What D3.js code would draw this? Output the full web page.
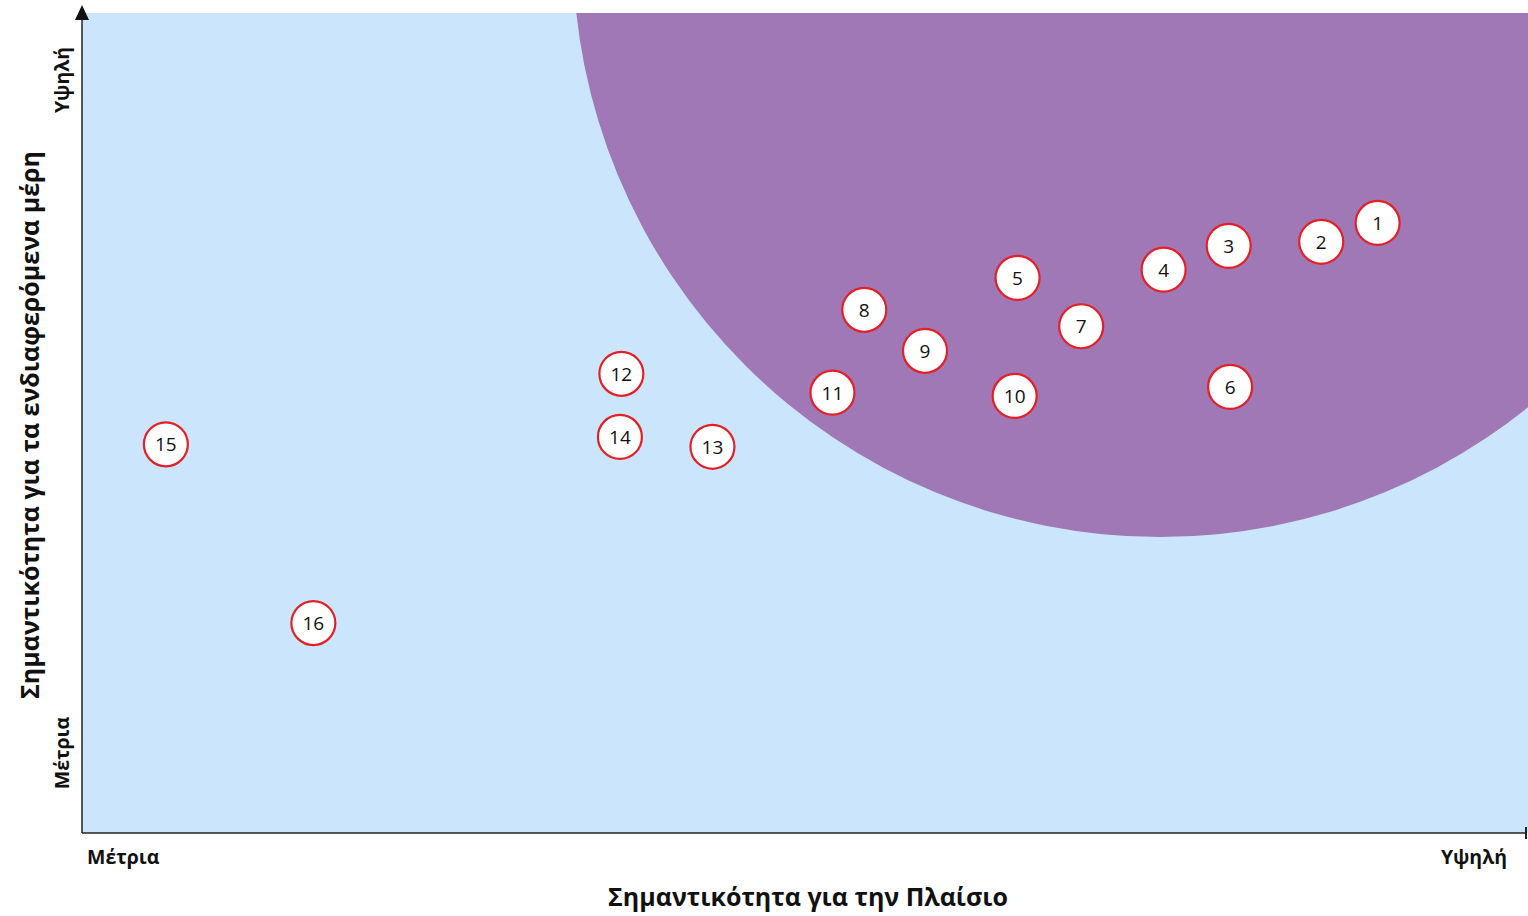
<!DOCTYPE html>
<html>
<head>
<meta charset="utf-8">
<script src="https://cdn.jsdelivr.net/npm/d3@7"></script>
<style>
  body { margin: 0; background: #fff; }
  .lbl { font-family: "Open Sans", sans-serif; font-weight: 700; fill: #111; }
  .num { font-family: "Open Sans", sans-serif; font-size: 19px; fill: #111; }
</style>
</head>
<body>
<div class="chart"></div>
<script>
// topic ids and positions (0-100 on both axes)
var ids = ["1","2","3","4","5","6","7","8","9","10","11","12","13","14","15","16"];
var xVals = [89.6, 85.7, 79.3, 74.8, 64.7, 79.4, 69.1, 54.1, 58.3, 64.5, 51.9, 37.3, 43.6, 37.2, 5.8, 16.0];
var yVals = [74.4, 72.1, 71.6, 68.7, 67.7, 54.4, 61.8, 63.8, 58.8, 53.3, 53.7, 56.0, 47.1, 48.3, 47.4, 25.6];

// highlighted zone (ellipse in data units)
var zoneCenter = [74.55, 107.7];
var zoneRadii = [40.6, 71.6];

var xTickLabels = ["Μέτρια", "Υψηλή"];
var yTickLabels = ["Μέτρια", "Υψηλή"];

var svgWidth = 1528;
var svgHeight = 916;
var margin = { top: 13, right: 0, bottom: 83, left: 82 };
var width = svgWidth - margin.left - margin.right;
var height = svgHeight - margin.top - margin.bottom;

var svg = d3.select(".chart")
  .append("svg")
  .attr("width", svgWidth)
  .attr("height", svgHeight);

var chartGroup = svg.append("g")
  .attr("transform", `translate(${margin.left}, ${margin.top})`);

var xScale = d3.scaleLinear().domain([0, 100]).range([0, width]);
var yScale = d3.scaleLinear().domain([0, 100]).range([height, 0]);

svg.append("defs").append("clipPath")
  .attr("id", "plotClip")
  .append("rect")
  .attr("width", width)
  .attr("height", height);

// background
chartGroup.append("rect")
  .attr("width", width)
  .attr("height", height)
  .attr("fill", "#cbe6fc");

// zone
chartGroup.append("g")
  .attr("clip-path", "url(#plotClip)")
  .append("ellipse")
  .attr("cx", xScale(zoneCenter[0]))
  .attr("cy", yScale(zoneCenter[1]))
  .attr("rx", xScale(zoneRadii[0]) - xScale(0))
  .attr("ry", yScale(0) - yScale(zoneRadii[1]))
  .attr("fill", "#9f78b5");

// axes
chartGroup.append("line")
  .attr("x1", 0).attr("x2", 0)
  .attr("y1", height).attr("y2", 2)
  .attr("stroke", "#222").attr("stroke-width", 1.5);
chartGroup.append("path")
  .attr("d", "M-7,7 L7,7 L0,-8 Z")
  .attr("fill", "#111");

chartGroup.append("line")
  .attr("x1", 0).attr("x2", width - 2)
  .attr("y1", height).attr("y2", height)
  .attr("stroke", "#222").attr("stroke-width", 1.5);
chartGroup.append("line")
  .attr("x1", width - 2).attr("x2", width - 2)
  .attr("y1", height - 6).attr("y2", height + 6)
  .attr("stroke", "#222").attr("stroke-width", 2);

// tick labels
chartGroup.append("text")
  .attr("class", "lbl")
  .attr("x", 5).attr("y", height + 31)
  .style("font-size", "19.5px")
  .text(xTickLabels[0]);
chartGroup.append("text")
  .attr("class", "lbl")
  .attr("x", width - 21).attr("y", height + 31)
  .attr("text-anchor", "end")
  .style("font-size", "19.5px")
  .text(xTickLabels[1]);

chartGroup.append("text")
  .attr("class", "lbl")
  .attr("transform", `translate(-13, ${740}) rotate(-90)`)
  .attr("text-anchor", "middle")
  .style("font-size", "19.5px")
  .text(yTickLabels[0]);
chartGroup.append("text")
  .attr("class", "lbl")
  .attr("transform", `translate(-13, 67) rotate(-90)`)
  .attr("text-anchor", "middle")
  .style("font-size", "19.5px")
  .text(yTickLabels[1]);

// axis titles
chartGroup.append("text")
  .attr("class", "lbl")
  .attr("transform", `translate(-43, ${height / 2 + 2}) rotate(-90)`)
  .attr("text-anchor", "middle")
  .style("font-size", "25px")
  .text("Σημαντικότητα για τα ενδιαφερόμενα μέρη");

chartGroup.append("text")
  .attr("class", "lbl")
  .attr("x", 808 - margin.left).attr("y", height + 73)
  .attr("text-anchor", "middle")
  .style("font-size", "25px")
  .text("Σημαντικότητα για την Πλαίσιο");

// points
var pts = ids.map(function(id, i) { return { id: id, x: xVals[i], y: yVals[i] }; });

var nodes = chartGroup.selectAll(".pt")
  .data(pts)
  .enter()
  .append("g")
  .attr("class", "pt")
  .attr("transform", d => `translate(${xScale(d.x)}, ${yScale(d.y)})`);

nodes.append("circle")
  .attr("r", 22)
  .attr("fill", "#fff")
  .attr("stroke", "#e41f26")
  .attr("stroke-width", 2.2);

nodes.append("text")
  .attr("class", "num")
  .attr("text-anchor", "middle")
  .attr("dy", "0.36em")
  .text(d => d.id);
</script>
</body>
</html>
